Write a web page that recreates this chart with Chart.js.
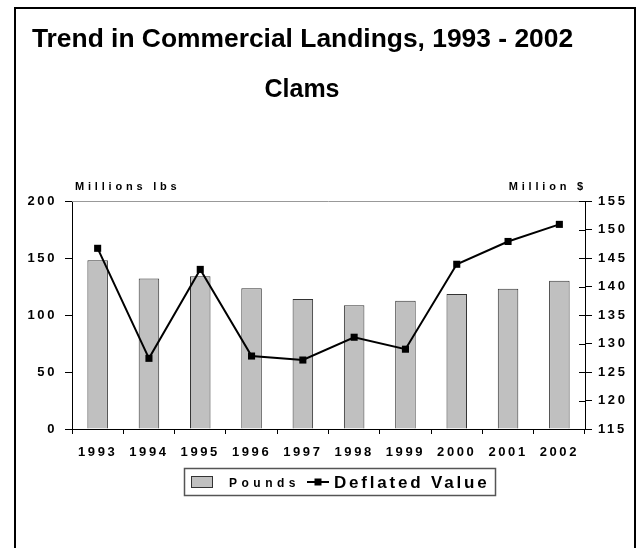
<!DOCTYPE html>
<html>
<head>
<meta charset="utf-8">
<script src="https://cdn.jsdelivr.net/npm/chart.js@4"></script>
<style>
    body {margin: 0; background: #fff;}
    #wrap {width: 636px; height: 548px;}
</style>
</head>
<body>
<div id="wrap"><canvas id="chart"></canvas></div>
<script>
const years = ['1993', '1994', '1995', '1996', '1997', '1998', '1999', '2000', '2001', '2002']
const pounds = [148, 132, 134, 123.5, 114, 108.5, 112.5, 118.5, 123, 130]
const deflatedValue = [146.7, 127.4, 143, 127.8, 127.1, 131.1, 129, 143.9, 147.9, 150.9]
const poundsRange = [0, 200, 50]
const valueRange = [115, 155, 5]

const titleText = 'Trend in Commercial Landings, 1993 - 2002'
const subtitleText = 'Clams'
const leftAxisTitle = 'Millions lbs'
const rightAxisTitle = 'Million $'

const FONT = '"Liberation Sans", Arial, sans-serif'
Chart.defaults.font.family = FONT
Chart.defaults.font.weight = 'bold'
Chart.defaults.color = '#000'

// canvas letter spacing for the tick labels (reset by canvas resizes, so set it each pass)
const spacing = {
    id: 'spacing',
    beforeLayout(chart) { chart.ctx.letterSpacing = '2.6px' },
    beforeDraw(chart) { chart.ctx.letterSpacing = '2.6px' },
}

const decorations = {
    id: 'decorations',
    afterDraw(chart) {
        const ctx = chart.ctx
        const area = chart.chartArea
        const y1 = chart.scales.y1
        const bars = chart.data.datasets[0]
        const line = chart.data.datasets[1]
        ctx.save()

        // outer frame
        ctx.strokeStyle = '#000'
        ctx.lineWidth = 2
        ctx.beginPath()
        ctx.moveTo(15, 550)
        ctx.lineTo(15, 8)
        ctx.lineTo(635, 8)
        ctx.lineTo(635, 550)
        ctx.stroke()

        // titles
        ctx.letterSpacing = '0px'
        ctx.fillStyle = '#000'
        ctx.textAlign = 'center'
        ctx.textBaseline = 'alphabetic'
        ctx.font = 'bold 26.4px ' + FONT
        ctx.fillText(titleText, 302.5, 47)
        ctx.font = 'bold 25px ' + FONT
        ctx.fillText(subtitleText, 302, 97)

        // axis titles
        ctx.font = 'bold 11px ' + FONT
        ctx.letterSpacing = '3.8px'
        ctx.textAlign = 'left'
        ctx.fillText(leftAxisTitle, area.left + 3, area.top - 11)
        ctx.textAlign = 'right'
        ctx.fillText(rightAxisTitle, area.right + 2, area.top - 11)

        // plot area top edge
        ctx.strokeStyle = '#999'
        ctx.lineWidth = 1
        ctx.beginPath()
        ctx.moveTo(area.left, area.top + 0.5)
        ctx.lineTo(area.right, area.top + 0.5)
        ctx.stroke()

        // right axis ticks cross the axis
        ctx.strokeStyle = '#000'
        ctx.beginPath()
        y1.ticks.forEach((t, i) => {
            const py = Math.round(y1.getPixelForTick(i)) + 0.5
            ctx.moveTo(area.right - 6, py)
            ctx.lineTo(area.right, py)
        })
        ctx.stroke()

        // legend
        ctx.letterSpacing = '0px'
        ctx.strokeStyle = '#555'
        ctx.lineWidth = 1.5
        ctx.strokeRect(184.5, 468.5, 311, 27)

        ctx.fillStyle = bars.backgroundColor
        ctx.fillRect(191, 476, 22, 12)
        ctx.strokeStyle = bars.borderColor
        ctx.lineWidth = 1
        ctx.strokeRect(191.5, 476.5, 21, 11)

        ctx.fillStyle = '#000'
        ctx.textAlign = 'left'
        ctx.font = 'bold 12px ' + FONT
        ctx.letterSpacing = '4.5px'
        ctx.fillText(bars.label, 229, 487)

        ctx.strokeStyle = line.borderColor
        ctx.lineWidth = 2
        ctx.beginPath()
        ctx.moveTo(307, 482)
        ctx.lineTo(329, 482)
        ctx.stroke()
        ctx.fillStyle = line.pointBackgroundColor
        ctx.fillRect(314.5, 478.5, 7, 7)

        ctx.fillStyle = '#000'
        ctx.font = 'bold 17px ' + FONT
        ctx.letterSpacing = '2.8px'
        ctx.fillText(line.label, 334, 488)

        ctx.restore()
    },
}

const ctx = document.getElementById('chart').getContext('2d')
new Chart(ctx, {
    data: {
        labels: years,
        datasets: [
            {
                type: 'bar',
                label: 'Pounds',
                data: pounds,
                yAxisID: 'y',
                order: 1,
                backgroundColor: '#c0c0c0',
                borderColor: '#333',
                borderWidth: 1,
                categoryPercentage: 1,
                barPercentage: 0.4,
            },
            {
                type: 'line',
                label: 'Deflated Value',
                data: deflatedValue,
                yAxisID: 'y1',
                order: 0,
                borderColor: '#000',
                borderWidth: 2,
                tension: 0,
                pointStyle: 'rect',
                pointRadius: 5,
                pointBorderWidth: 0,
                pointBackgroundColor: '#000',
            },
        ],
    },
    options: {
        responsive: true,
        maintainAspectRatio: false,
        animation: false,
        layout: {padding: {top: 201, left: 0, right: 0, bottom: 0}},
        plugins: {
            legend: {display: false},
            title: {display: false},
            tooltip: {enabled: false},
        },
        scales: {
            x: {
                grid: {drawOnChartArea: false, tickLength: 5, color: '#000'},
                border: {color: '#000', width: 1},
                ticks: {font: {size: 13}, padding: 11, autoSkip: false, maxRotation: 0},
                afterFit: scale => { scale.height = 119 },
            },
            y: {
                position: 'left',
                min: poundsRange[0],
                max: poundsRange[1],
                grid: {drawOnChartArea: false, tickLength: 7, color: '#000'},
                border: {color: '#000', width: 1},
                ticks: {stepSize: poundsRange[2], font: {size: 13}, padding: 8},
                afterFit: scale => { scale.width = 72 },
            },
            y1: {
                position: 'right',
                min: valueRange[0],
                max: valueRange[1],
                grid: {drawOnChartArea: false, tickLength: 7, color: '#000'},
                border: {color: '#000', width: 1},
                ticks: {stepSize: valueRange[2], font: {size: 13}, padding: 6},
                afterFit: scale => { scale.width = 51 },
            },
        },
    },
    plugins: [spacing, decorations],
})
</script>
</body>
</html>
